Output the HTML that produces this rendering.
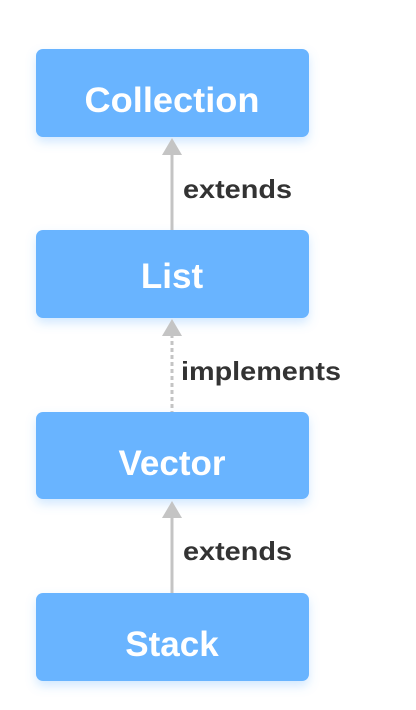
<!DOCTYPE html>
<html><head><meta charset="utf-8"><style>
html,body{margin:0;padding:0;background:#fff;width:416px;height:710px;overflow:hidden}
</style></head><body>
<svg width="416" height="710" viewBox="0 0 416 710" xmlns="http://www.w3.org/2000/svg">
<defs>
<filter id="sh" x="-20%" y="-20%" width="140%" height="160%">
<feDropShadow dx="0" dy="5" stdDeviation="5" flood-color="#69b4ff" flood-opacity="0.3"/>
</filter>
</defs>
<g fill="#69b4ff" filter="url(#sh)">
<rect x="36" y="49" width="273" height="88" rx="7"/>
<rect x="36" y="230" width="273" height="88" rx="7"/>
<rect x="36" y="412" width="273" height="87" rx="7"/>
<rect x="36" y="593" width="273" height="88" rx="7"/>
</g>
<g font-family="Liberation Sans, sans-serif" font-weight="bold" font-size="35" fill="#fff" text-anchor="middle">
<text x="172" y="112" textLength="175" lengthAdjust="spacingAndGlyphs">Collection</text>
<text x="172" y="288">List</text>
<text x="172" y="475">Vector</text>
<text x="172" y="656">Stack</text>
</g>
<g stroke="#c4c4c4" stroke-width="3">
<line x1="172" y1="152" x2="172" y2="230"/>
<line x1="172" y1="334" x2="172" y2="412" stroke-dasharray="4,3"/>
<line x1="172" y1="515" x2="172" y2="593"/>
</g>
<g fill="#c4c4c4">
<polygon points="172,138 182,155 162,155"/>
<polygon points="172,319 182,336 162,336"/>
<polygon points="172,501 182,518 162,518"/>
</g>
<g font-family="Liberation Sans, sans-serif" font-weight="bold" font-size="26" fill="#333">
<text x="183" y="198" textLength="109" lengthAdjust="spacingAndGlyphs">extends</text>
<text x="181" y="380" textLength="160" lengthAdjust="spacingAndGlyphs">implements</text>
<text x="183" y="560" textLength="109" lengthAdjust="spacingAndGlyphs">extends</text>
</g>
</svg>
</body></html>
